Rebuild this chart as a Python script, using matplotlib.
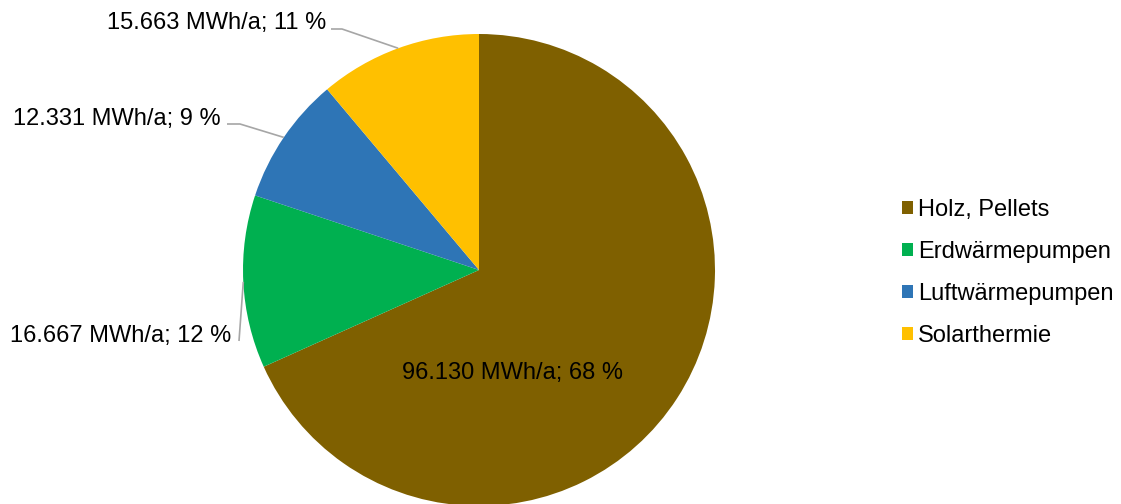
import numpy as np
import matplotlib
matplotlib.use("Agg")
import matplotlib.pyplot as plt

plt.rcParams["font.family"] = ["Liberation Sans", "DejaVu Sans"]

CATEGORIES = ["Holz, Pellets", "Erdwärmepumpen", "Luftwärmepumpen", "Solarthermie"]
ENERGY_MWH = [96130, 16667, 12331, 15663]
COLORS = ["#7F6000", "#00B050", "#2E75B6", "#FFC000"]

FIG_W, FIG_H = 1121, 504
CENTER = (479, FIG_H - 270)
RADIUS = 236
FONT_SIZE = 17


def fmt_label(value: float, total: float) -> str:
    thousands = f"{value:,.0f}".replace(",", ".")
    return f"{thousands} MWh/a; {value / total * 100:.0f} %"


fig = plt.figure(figsize=(FIG_W / 100, FIG_H / 100), dpi=100)
ax = fig.add_axes([0, 0, 1, 1])

wedges, _ = ax.pie(
    ENERGY_MWH,
    colors=COLORS,
    startangle=90,
    counterclock=False,
    center=CENTER,
    radius=RADIUS,
    wedgeprops=dict(linewidth=0),
)
ax.set_xlim(0, FIG_W)
ax.set_ylim(0, FIG_H)
ax.set_aspect("equal")
ax.axis("off")

total = sum(ENERGY_MWH)
labels = [fmt_label(v, total) for v in ENERGY_MWH]

# (text x, text baseline y, knee points) in pixel space, y measured from top
outside = {
    1: (231, 342, [(239, 341)]),
    2: (221, 125, [(227, 124), (240, 124)]),
    3: (326, 29, [(331, 29), (342, 29)]),
}

for idx, wedge in enumerate(wedges):
    if idx == 0:
        ax.text(512, FIG_H - 379, labels[idx], fontsize=FONT_SIZE,
                ha="center", va="baseline", color="#000000")
        continue
    tx, ty, knees = outside[idx]
    mid = np.deg2rad((wedge.theta1 + wedge.theta2) / 2)
    edge = (CENTER[0] + RADIUS * np.cos(mid), CENTER[1] + RADIUS * np.sin(mid))
    pts = [(x, FIG_H - y) for x, y in knees] + [edge]
    xs, ys = zip(*pts)
    ax.plot(xs, ys, color="#A6A6A6", linewidth=1.2, solid_capstyle="butt")
    ax.text(tx, FIG_H - ty, labels[idx], fontsize=FONT_SIZE,
            ha="right", va="baseline", color="#000000")

ax.legend(
    wedges,
    CATEGORIES,
    loc="center left",
    bbox_to_anchor=(902, FIG_H - 273),
    bbox_transform=ax.transData,
    frameon=False,
    fontsize=FONT_SIZE,
    handlelength=0.47,
    handleheight=0.47,
    handletextpad=0.2,
    labelspacing=0.84,
    borderpad=0,
    borderaxespad=0,
)

fig.savefig("out.png", dpi=100)
